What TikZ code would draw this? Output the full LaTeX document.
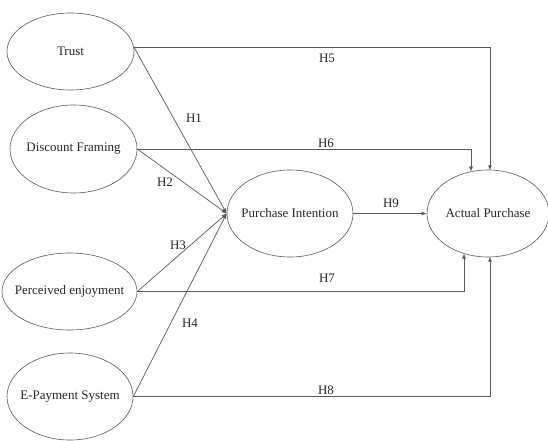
\documentclass[tikz,border=0pt]{standalone}
\usepackage{fontspec}
\setmainfont{Liberation Serif}
\usetikzlibrary{arrows.meta,shapes.geometric}
\begin{document}
\begin{tikzpicture}[x=1pt,y=-1pt,
  every node/.style={font=\fontsize{13}{15}\selectfont, text=black!85},
  var/.style={ellipse, draw=black!65, line width=0.6pt, inner sep=0pt},
  conn/.style={draw=black!65, line width=0.7pt, -{Latex[length=5pt,width=4pt]}},
  lab/.style={inner sep=1pt}]
\useasboundingbox (0,0) rectangle (548,441);
\node[var, minimum width=127, minimum height=77] (trust) at (70.5,51.5) {\makebox[0pt]{Trust}};
\node[var, minimum width=127, minimum height=88] (df) at (73.5,149) {\makebox[0pt]{Discount Framing}};
\node[var, minimum width=135, minimum height=77] (pe) at (69.5,291.5) {\makebox[0pt]{Perceived enjoyment}};
\node[var, minimum width=126, minimum height=87] (eps) at (70,396.5) {\makebox[0pt]{E-Payment System}};
\node[var, minimum width=126, minimum height=87] (pi) at (290,213.5) {\makebox[0pt]{Purchase Intention}};
\node[var, minimum width=122, minimum height=87] (ap) at (488,213.5) {\makebox[0pt]{Actual Purchase}};

\coordinate (apT5) at (490,170.3);
\coordinate (apT6) at (471,171.6);
\coordinate (apB7) at (464,253.5);
\coordinate (apB8) at (490,256.7);

% to Purchase Intention
\draw[conn] (trust.4) -- (pi.west);
\draw[conn] (df.east) -- (pi.west);
\draw[conn] (pe.east) -- (pi.west);
\draw[conn] (eps.east) -- (pi.west);
% to Actual Purchase
\draw[conn] (trust.4) -- (trust.4 -| apT5) -- (apT5);
\draw[conn] (df.east) -- (df.east -| apT6) -- (apT6);
\draw[conn] (pe.east) -- (pe.east -| apB7) -- (apB7);
\draw[conn] (eps.east) -- (eps.east -| apB8) -- (apB8);
\draw[conn] (pi.east) -- (ap.west);

\node[lab] (h1) at (194,118) {H1};
\node[lab] (h2) at (165,182) {H2};
\node[lab] (h3) at (178,245) {H3};
\node[lab] (h4) at (190,323) {H4};
\node[lab] (h5) at (327,58) {H5};
\node[lab] (h6) at (326,143) {H6};
\node[lab] (h7) at (327,278) {H7};
\node[lab] (h8) at (326,390) {H8};
\node[lab] (h9) at (391,203) {H9};
\end{tikzpicture}
\end{document}
